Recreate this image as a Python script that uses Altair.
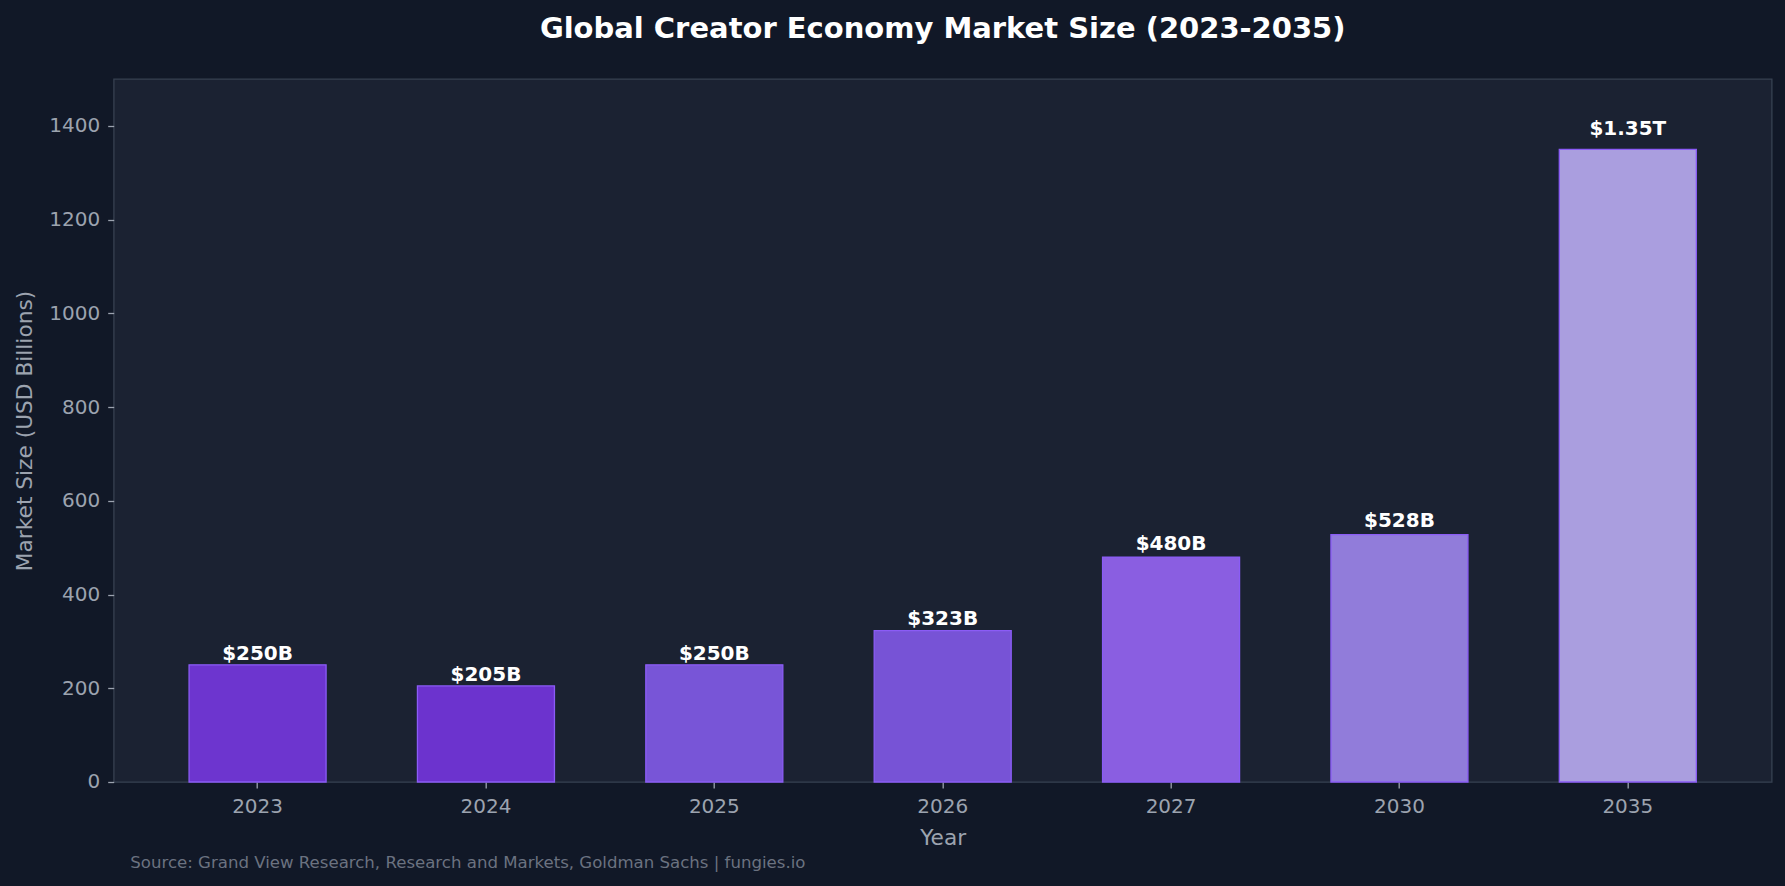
import altair as alt
import pandas as pd

years = ["2023", "2024", "2025", "2026", "2027", "2030", "2035"]
values = [250, 205, 250, 323, 480, 528, 1350]
labels = ["$250B", "$205B", "$250B", "$323B", "$480B", "$528B", "$1.35T"]
bar_colors = ["#6D35CF", "#6C33CE", "#7855D7", "#7753D6", "#8A5EE1", "#917CDA", "#AA9EDF"]
y_ticks = [0, 200, 400, 600, 800, 1000, 1200, 1400]

title_text = "Global Creator Economy Market Size (2023-2035)"
source_text = "Source: Grand View Research, Research and Markets, Goldman Sachs | fungies.io"

df = pd.DataFrame({"year": years, "value": values, "label": labels})

FONT = "DejaVu Sans"
PLOT_W = 1658
PLOT_H = 703

x_enc = alt.X(
    "year:N",
    sort=years,
    scale=alt.Scale(paddingInner=0.4, paddingOuter=0.33),
    axis=alt.Axis(title="Year", labelAngle=0, labelPadding=9, titlePadding=11),
)

bars = alt.Chart(df).mark_bar(stroke="#8B5CF6", strokeWidth=1.3).encode(
    x=x_enc,
    y=alt.Y(
        "value:Q",
        scale=alt.Scale(domain=[0, 1500], nice=False),
        axis=alt.Axis(title="Market Size (USD Billions)", values=y_ticks, format="d",
                      labelPadding=8, titlePadding=12),
    ),
    color=alt.Color("year:N", scale=alt.Scale(domain=years, range=bar_colors), legend=None),
)

text = (
    alt.Chart(df)
    .transform_calculate(ly="datum.value * 1.018 + 6")
    .mark_text(fontWeight="bold", fontSize=20, color="#FFFFFF", baseline="alphabetic", font=FONT)
    .encode(x=x_enc, y=alt.Y("ly:Q"), text="label:N")
)

source = (
    alt.Chart(pd.DataFrame({"t": [source_text]}))
    .mark_text(align="left", baseline="alphabetic", fontSize=16.6, color="#6B7280", font=FONT)
    .encode(x=alt.value(16.6), y=alt.value(788.7), text="t:N")
)

chart = (
    alt.layer(bars, text, source)
    .properties(
        width=PLOT_W,
        height=PLOT_H,
        autosize="none",
        padding={"left": 113.7, "top": 79, "right": 13, "bottom": 104},
        background="#111827",
        title=alt.TitleParams(
            text=title_text,
            fontSize=29,
            fontWeight="bold",
            color="#FFFFFF",
            font=FONT,
            anchor="middle",
            frame="group",
            baseline="alphabetic",
            offset=12.5,
        ),
    )
    .configure(font=FONT)
    .configure_view(fill="#1B2232", stroke="#374151", strokeWidth=1.3)
    .configure_axis(
        grid=False,
        domain=False,
        tickColor="#9CA3AF",
        tickSize=6,
        tickWidth=1.3,
        labelColor="#9CA3AF",
        labelFontSize=20,
        labelFont=FONT,
        titleColor="#9CA3AF",
        titleFontSize=21.7,
        titleFont=FONT,
        titleFontWeight="normal",
    )
)

chart.save("out.html", embed_options={"renderer": "svg", "actions": False})
